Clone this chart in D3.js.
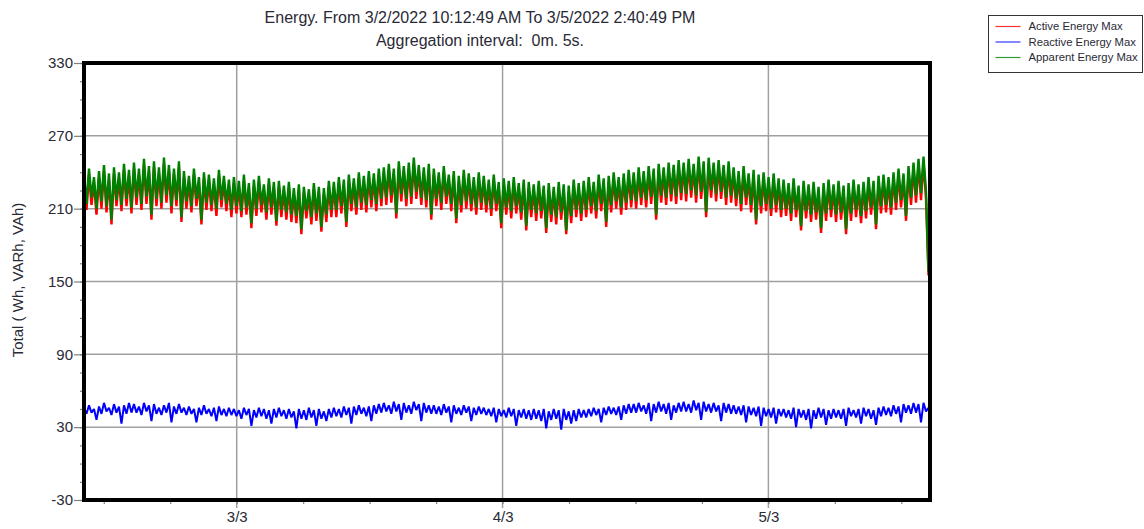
<!DOCTYPE html>
<meta charset="utf-8">
<body style="margin:0;background:#fff">
<div id="chart"></div>
</body>
<style>
	text { font-family: "Liberation Sans", Arial, sans-serif; fill: #2a2a36; }
</style>
<script src="https://cdn.jsdelivr.net/npm/d3@7"></script>
<script>

// Recording window (5 s aggregation), values are max per interval
var startTime = new Date(Date.UTC(2022, 2, 2, 10, 12, 49));
var endTime = new Date(Date.UTC(2022, 2, 5, 14, 40, 49));

var titleLines = ["Energy. From 3/2/2022 10:12:49 AM To 3/5/2022 2:40:49 PM",
	"Aggregation interval:  0m. 5s."];
var yLabel = "Total ( Wh, VARh, VAh)";
var yTicks = [-30, 30, 90, 150, 210, 270, 330];
var seriesNames = ["Active Energy Max", "Reactive Energy Max", "Apparent Energy Max"];
var seriesColors = ["#ff0000", "#0000ff", "#008000"];

// Samples, evenly spaced in time over the window
var activeMax = [
	234,209, 238,213, 231,205, 236,210, 241,207, 234,197, 239,212, 235,208, 242,212, 237,206,
	243,213, 238,209, 246,214, 240,201, 244,212, 239,210, 247,215, 241,206, 238,212, 244,199,
	236,210, 232,207, 238,212, 231,197, 235,209, 233,208, 230,204, 237,211, 232,208, 229,203,
	231,206, 228,203, 233,205, 226,194, 229,204, 232,207, 225,201, 230,205, 227,196, 228,203,
	224,201, 227,199, 222,198, 225,189, 223,202, 221,197, 226,200, 223,191, 222,199, 228,203,
	227,203, 231,206, 229,195, 233,208, 230,205, 235,209, 232,207, 236,211, 234,208, 238,212,
	239,213, 242,215, 238,202, 244,216, 240,212, 243,214, 247,218, 241,213, 239,211, 242,201,
	238,212, 235,209, 240,214, 233,208, 236,198, 232,207, 237,210, 234,208, 231,205, 235,209,
	232,207, 229,204, 233,208, 227,194, 230,205, 228,202, 231,206, 226,201, 229,192, 227,203,
	225,200, 228,202, 224,190, 226,199, 223,197, 227,201, 225,189, 224,198, 229,203, 226,200,
	228,203, 231,206, 227,202, 233,208, 230,195, 232,207, 235,210, 231,205, 234,209, 237,211,
	235,210, 239,213, 236,211, 240,214, 238,201, 242,215, 239,213, 243,216, 241,214, 245,217,
	243,216, 246,219, 242,215, 248,218, 244,203, 247,219, 243,216, 245,218, 241,213, 244,215,
	239,212, 236,208, 240,213, 234,207, 237,197, 233,206, 235,208, 231,204, 234,207, 230,203,
	229,204, 226,200, 230,203, 224,192, 228,202, 225,199, 227,201, 223,190, 226,200, 229,203,
	225,199, 228,201, 224,189, 226,200, 229,203, 225,198, 227,202, 231,205, 228,193, 232,206,
	233,207, 231,205, 235,209, 238,211, 234,200, 240,213, 243,215, 246,217, 248,218, 155,233
];

var reactiveMax = [
	46,41, 48,42, 45,36, 47,41, 50,43, 46,40, 49,42, 47,33, 48,41, 50,42,
	49,42, 47,40, 50,43, 48,35, 49,41, 46,40, 48,42, 50,34, 47,41, 49,42,
	46,40, 47,41, 45,34, 46,40, 48,41, 45,39, 46,35, 47,40, 45,39, 46,40,
	45,39, 44,37, 46,40, 45,31, 44,38, 46,39, 45,37, 44,33, 45,38, 46,39,
	44,37, 45,38, 43,29, 45,37, 44,36, 46,38, 44,31, 45,37, 43,35, 45,38,
	46,39, 45,38, 47,40, 46,33, 47,40, 48,41, 46,39, 47,35, 48,41, 49,42,
	50,43, 48,41, 51,43, 49,36, 50,42, 48,41, 51,44, 49,35, 50,42, 48,41,
	48,41, 47,40, 49,42, 47,34, 48,41, 46,40, 48,42, 47,35, 46,40, 47,41,
	46,40, 45,39, 46,34, 45,39, 44,38, 46,39, 45,31, 44,38, 45,37, 44,36,
	45,37, 44,35, 45,29, 43,36, 45,37, 44,28, 45,36, 43,33, 44,35, 45,38,
	44,38, 45,39, 46,40, 45,34, 46,40, 47,41, 46,40, 47,36, 48,41, 49,42,
	49,42, 50,43, 48,41, 50,35, 49,42, 51,43, 49,41, 50,36, 48,42, 50,43,
	51,43, 49,42, 52,44, 50,36, 51,43, 49,42, 50,43, 48,35, 50,42, 49,41,
	48,41, 47,40, 48,34, 47,40, 46,39, 47,31, 46,39, 45,38, 46,33, 45,39,
	45,38, 44,37, 46,30, 45,38, 44,36, 45,29, 44,37, 46,38, 45,32, 44,37,
	45,38, 44,37, 45,31, 46,39, 44,38, 45,33, 46,39, 45,37, 44,32, 46,39,
	47,40, 46,39, 48,41, 47,34, 49,42, 48,41, 50,42, 49,34, 50,43, 46,34
];

var apparentMax = [
	238,214, 243,219, 236,210, 241,216, 246,212, 239,201, 244,217, 240,213, 247,218, 242,211,
	248,219, 243,214, 251,220, 245,205, 249,218, 244,215, 252,221, 246,212, 243,217, 249,203,
	241,216, 237,212, 243,218, 236,201, 240,215, 238,213, 235,210, 242,217, 237,214, 234,209,
	236,212, 233,208, 238,211, 231,198, 234,210, 237,213, 230,207, 235,211, 232,200, 233,209,
	229,207, 232,205, 227,204, 230,193, 228,208, 226,203, 231,206, 228,195, 227,205, 233,209,
	232,209, 236,212, 234,199, 238,214, 235,211, 240,215, 237,213, 241,217, 239,214, 243,218,
	244,219, 247,221, 243,206, 249,222, 245,218, 248,220, 252,224, 246,219, 244,217, 247,205,
	243,218, 240,215, 245,220, 238,214, 241,202, 237,213, 242,216, 239,214, 236,211, 240,215,
	237,213, 234,210, 238,214, 232,198, 235,211, 233,208, 236,212, 231,207, 234,196, 232,209,
	230,206, 233,208, 229,194, 231,205, 228,203, 232,207, 230,192, 229,204, 234,209, 231,206,
	233,209, 236,212, 232,208, 238,214, 235,199, 237,213, 240,216, 236,211, 239,215, 242,217,
	240,216, 244,219, 241,217, 245,220, 243,205, 247,221, 244,219, 248,222, 246,220, 250,223,
	248,222, 251,225, 247,221, 253,224, 249,207, 252,225, 248,222, 250,224, 246,219, 249,221,
	244,218, 241,214, 245,219, 239,213, 242,201, 238,212, 240,214, 236,210, 239,213, 235,209,
	234,210, 231,206, 235,209, 229,196, 233,208, 230,205, 232,207, 228,194, 231,206, 234,209,
	230,205, 233,207, 229,193, 231,206, 234,209, 230,204, 232,208, 236,211, 233,197, 237,212,
	238,213, 236,211, 240,215, 243,217, 239,204, 245,219, 248,221, 251,223, 253,224, 158,236
];

var width = 1144,
	height = 529;
var plot = {left: 84, right: 930, top: 63, bottom: 500};

var svg = d3.select("#chart").append("svg")
	.attr("width", width)
	.attr("height", height)
	.style("display", "block");

var x = d3.scaleUtc()
	.domain([startTime, endTime])
	.range([plot.left, plot.right + 1]);

var y = d3.scaleLinear()
	.domain([-30, 330])
	.range([plot.bottom, plot.top]);

// Time of the i-th sample of a series with n samples
function sampleTime(i, n) {
	return new Date(+startTime + (endTime - startTime) * i / (n - 1));
}

// Gridlines
var grid = svg.append("g").attr("stroke", "#a0a0a0").attr("stroke-width", 1.5);
grid.selectAll("line.gy")
	.data(yTicks.slice(1, -1))
	.enter().append("line")
	.attr("x1", plot.left).attr("x2", plot.right)
	.attr("y1", d => y(d)).attr("y2", d => y(d));
grid.selectAll("line.gx")
	.data(d3.utcDay.range(startTime, endTime))
	.enter().append("line")
	.attr("x1", d => x(d)).attr("x2", d => x(d))
	.attr("y1", plot.top).attr("y2", plot.bottom + 8);

// Axes
var yAxisMinor = d3.axisLeft(y)
	.tickValues(d3.range(-30, 331, 15))
	.tickSize(4)
	.tickFormat("");
var yAxis = d3.axisLeft(y)
	.tickValues(yTicks)
	.tickSize(10)
	.tickPadding(1)
	.tickFormat(d => String(d));
var xAxisMinor = d3.axisBottom(x)
	.ticks(d3.utcHour.every(6))
	.tickSize(4)
	.tickFormat("");
var xAxis = d3.axisBottom(x)
	.ticks(d3.utcDay.every(1))
	.tickSize(0)
	.tickPadding(11)
	.tickFormat(d3.utcFormat("%-d/%-m"));

function styleAxis(g) {
	g.select(".domain").remove();
	g.selectAll(".tick line").attr("stroke", "#808080").attr("stroke-width", 1.2);
	g.selectAll(".tick text")
		.style("font-size", "15px")
		.attr("fill", "#2a2a36");
}

svg.append("g").attr("transform", "translate(" + plot.left + ",0)").call(yAxisMinor).call(styleAxis);
svg.append("g").attr("transform", "translate(" + plot.left + ",0)").call(yAxis).call(styleAxis);
svg.append("g").attr("transform", "translate(0," + plot.bottom + ")").call(xAxisMinor).call(styleAxis);
svg.append("g").attr("transform", "translate(0," + plot.bottom + ")").call(xAxis).call(styleAxis);

// Series
svg.append("clipPath").attr("id", "plotClip")
	.append("rect")
	.attr("x", plot.left).attr("y", plot.top)
	.attr("width", plot.right - plot.left).attr("height", plot.bottom - plot.top);

var series = [
	{values: activeMax, color: seriesColors[0], width: 2.4},
	{values: reactiveMax, color: seriesColors[1], width: 2},
	{values: apparentMax, color: seriesColors[2], width: 2.4}
];

var line = d3.line()
	.x(d => x(d.t))
	.y(d => y(d.v));

svg.append("g").attr("clip-path", "url(#plotClip)")
	.selectAll("path")
	.data(series)
	.enter().append("path")
	.attr("fill", "none")
	.attr("stroke", d => d.color)
	.attr("stroke-width", d => d.width)
	.attr("stroke-linejoin", "bevel")
	.attr("d", d => line(d.values.map((v, i) => ({t: sampleTime(i, d.values.length), v: v}))));

// Frame
svg.append("rect")
	.attr("x", plot.left).attr("y", plot.top)
	.attr("width", plot.right - plot.left).attr("height", plot.bottom - plot.top)
	.attr("fill", "none")
	.attr("stroke", "#000")
	.attr("stroke-width", 4);

// Titles
svg.selectAll("text.title")
	.data(titleLines)
	.enter().append("text")
	.attr("class", "title")
	.attr("x", 480)
	.attr("y", (d, i) => 23 + i * 23)
	.attr("text-anchor", "middle")
	.style("font-size", "16px")
	.style("white-space", "pre")
	.text(d => d);

svg.append("text")
	.attr("transform", "translate(23,280) rotate(-90)")
	.attr("text-anchor", "middle")
	.style("font-size", "15px")
	.text(yLabel);

// Legend
var legend = svg.append("g").attr("transform", "translate(988.5,15.5)");
legend.append("rect")
	.attr("width", 154).attr("height", 57)
	.attr("fill", "#fff")
	.attr("stroke", "#333")
	.attr("stroke-width", 1);
var item = legend.selectAll("g.item")
	.data(seriesNames)
	.enter().append("g")
	.attr("transform", (d, i) => "translate(0," + (11 + i * 15.5) + ")");
item.append("line")
	.attr("x1", 7).attr("x2", 32)
	.attr("stroke", (d, i) => seriesColors[i])
	.attr("stroke-opacity", 0.8)
	.attr("stroke-width", 1.2);
item.append("text")
	.attr("x", 40)
	.attr("dy", "0.35em")
	.style("font-size", "11.3px")
	.text(d => d);
</script>
